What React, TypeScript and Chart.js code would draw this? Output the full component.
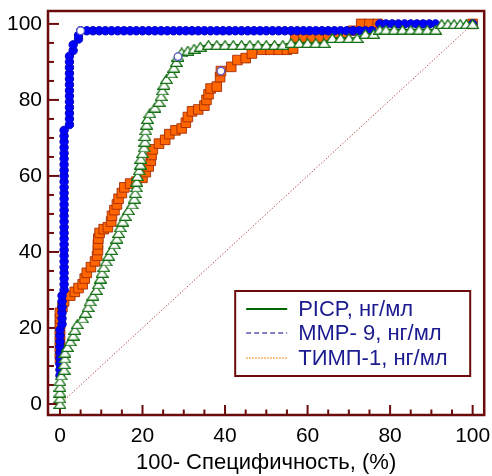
import React, { useEffect, useRef } from 'react';
import { Chart, registerables } from 'chart.js';

Chart.register(...registerables);

const FONT = "'Liberation Sans', Arial, Helvetica, sans-serif";
const AXIS_COLOR = '#6b0b0b';

const legendLabels = ['PICP, нг/мл', 'MMP- 9, нг/мл', 'ТИМП-1, нг/мл'];
const xTitle = '100- Специфичность, (%)';
const xTickValues = [0, 20, 40, 60, 80, 100];
const yTickValues = [0, 20, 40, 60, 80, 100];
const minorTickValues = [5, 10, 15, 25, 30, 35, 45, 50, 55, 65, 70, 75, 85, 90, 95];
const diagonalLine: [number, number][] = [[0, 0], [100, 100]];

// PICP, нг/мл  (100 - specificity, sensitivity)
const picpCurve: [number, number][] = [
  [0, 0], [0, 1.5], [0, 3], [0, 4.5], [0, 6], [0.3, 7.5],
  [1, 9], [1, 10.5], [1.2, 12], [1.2, 13.5], [1.8, 15],
  [2.5, 16.5], [3.2, 18], [3.6, 19.5], [4.2, 21],
  [5.5, 22.5], [6.2, 24], [6.8, 25.5], [7.3, 27],
  [8, 28.5], [8.8, 30], [9.3, 31.5], [9.8, 33], [10.2, 34.5], [10.6, 36], [11.2, 37.5], [11.8, 39], [12.5, 40.5],
  [13.2, 42], [13.8, 43.5], [14.2, 45], [14.6, 46.5], [15.2, 48], [15.8, 49.5], [16.6, 51],
  [17.5, 52.5], [18, 54], [18.2, 55.5], [18.5, 57], [18.6, 58.5], [18.8, 60], [19.2, 61.5], [19.5, 63], [19.6, 64.5], [20, 66],
  [20.4, 67.5], [20.6, 69], [20.6, 70.5], [20.8, 72], [21, 73.5], [21.2, 75], [21.8, 76.5],
  [23, 78], [24, 79.5], [24.5, 81], [24.8, 82.5], [25.2, 84], [25.8, 85.5],
  [27, 87], [27.6, 88.5], [28.2, 90], [28.6, 91.4], [29.5, 92.5], [31, 93], [32.5, 93.5], [34, 94],
  [36, 94.5], [38, 94.5], [40, 94.5], [42, 94.5], [44, 94.5], [46, 94.5], [48, 94.5], [50, 94.5], [52, 94.5], [54, 94.5],
  [56, 95], [58, 95], [60, 95], [62, 95], [64, 95],
  [66, 96.3], [68, 96.3], [70, 96.3], [72, 96.3],
  [74, 97.4], [76, 97.4],
  [77.5, 98.5], [79, 98.5], [81, 98.5], [83, 98.5], [85, 98.5], [87, 98.5], [89, 98.5], [91, 98.5],
  [92.5, 100], [94, 100], [95.5, 100], [97, 100], [98.5, 100], [100, 100],
];

// MMP- 9, нг/мл
const mmpCurve: [number, number][] = [
  [0, 0],
  [0, 7.5], [0, 9], [0, 10.5], [0, 12], [0, 13.5], [0, 15], [0, 16.5], [0, 18], [0, 19.5],
  [0.5, 21], [0.5, 22.5], [0.5, 24], [0.5, 25.5], [0.5, 27], [0.5, 28.5],
  [1, 30], [1, 31.5], [1, 33], [1, 34.5], [1, 36], [1, 37.5], [1, 39], [1, 40.5], [1, 42], [1, 43.5],
  [1, 45], [1, 46.5], [1, 48], [1, 49.5], [1, 51], [1, 52.5], [1, 54], [1, 55.5], [1, 57], [1, 58.5],
  [1, 60], [1, 61.5], [1, 63], [1, 64.5], [1, 66], [1, 67.5], [1, 69], [1, 70.5], [1, 72],
  [2.3, 73.5], [2.3, 75], [2.3, 76.5], [2.3, 78], [2.3, 79.5], [2.3, 81], [2.3, 82.5], [2.3, 84],
  [2.3, 85.5], [2.3, 87], [2.3, 88.5], [2.3, 90], [2.3, 91.5],
  [3.2, 93], [3.2, 94.5], [4.5, 96], [4.5, 97], [5, 98.2],
  [6.5, 98.2], [8, 98.2], [9.5, 98.2], [11, 98.2], [12.5, 98.2], [14, 98.2], [15.5, 98.2], [17, 98.2],
  [18.5, 98.2], [20, 98.2], [21.5, 98.2], [23, 98.2], [24.5, 98.2], [26, 98.2], [27.5, 98.2], [29, 98.2],
  [30.5, 98.2], [32, 98.2], [33.5, 98.2], [35, 98.2], [36.5, 98.2], [38, 98.2], [39.5, 98.2], [41, 98.2],
  [42.5, 98.2], [44, 98.2], [45.5, 98.2], [47, 98.2], [48.5, 98.2], [50, 98.2], [51.5, 98.2], [53, 98.2],
  [54.5, 98.2], [56, 98.2], [57.5, 98.2], [59, 98.2], [60.5, 98.2], [62, 98.2], [63.5, 98.2], [65, 98.2],
  [66.5, 98.2], [68, 98.2], [69.5, 98.2], [71, 98.2], [72.5, 98.2], [74, 98.2], [75.5, 98.2],
  [77.5, 100], [79, 100], [80.5, 100], [82, 100], [83.5, 100], [85, 100], [86.5, 100], [88, 100],
  [89.5, 100], [91, 100], [100, 100],
];

// ТИМП-1, нг/мл
const timpCurve: [number, number][] = [
  [0, 0],
  [0, 12], [0, 13.5], [0, 15], [0, 16.5], [0, 18], [0, 19.5], [0, 21], [0, 22.5], [0, 24], [0.6, 25.5], [1, 27],
  [2.5, 28.5], [3.6, 29.5], [4.5, 30.5], [5.5, 31.5], [6, 33], [6.5, 34.5], [7.5, 36], [8.5, 37.5], [9, 39],
  [9.2, 40.5], [9.2, 42], [9.3, 43.5], [9.6, 45], [10.6, 46], [11.6, 46.5], [12.4, 48], [12.6, 49.5], [13.2, 51],
  [13.8, 52.5], [14.2, 54], [15, 55.5], [15.6, 57], [17, 58], [18.5, 58.5], [20, 59.5], [20.8, 61], [21.5, 62.5],
  [22, 64], [22.2, 65.5], [22.5, 67], [24, 68.5], [25.5, 69.5], [26.5, 71], [28, 72], [29.5, 72.5], [30.5, 74],
  [31, 75.5], [32, 77], [33.5, 77.5], [35, 78.5], [35.5, 80], [36, 81.5], [36.5, 83], [38, 83.5], [38.8, 86],
  [39, 87.6], [41.5, 88.7], [43, 90.5], [45, 91], [46.5, 92.2], [49, 93.2], [51, 93.2], [53, 93.2], [55, 93.2],
  [56.5, 93.5], [57, 96.4], [59, 96.4], [61, 96.4], [63, 96.4], [65, 96.4], [67, 96.4], [69, 97], [71, 98.2],
  [73, 100], [75, 100], [77, 100], [100, 100],
];

// optimal cut-off points: PICP, MMP-9, ТИМП-1
const cutoffPoints: [number, number][] = [[28.6, 91.4], [5, 98.2], [39, 87.6]];

const toXY = (pts: [number, number][]) => pts.map(([x, y]) => ({ x, y }));

function makeTriangle(): HTMLCanvasElement {
  const c = document.createElement('canvas');
  c.width = 13;
  c.height = 10;
  const g = c.getContext('2d')!;
  g.beginPath();
  g.moveTo(6.5, 0.8);
  g.lineTo(12.3, 9.3);
  g.lineTo(0.7, 9.3);
  g.closePath();
  g.fillStyle = '#ffffff';
  g.fill();
  g.strokeStyle = '#167016';
  g.lineWidth = 1.3;
  g.stroke();
  return c;
}

const zeroPadding = (s: any) => {
  s.paddingTop = 0;
  s.paddingBottom = 0;
  s.paddingLeft = 0;
  s.paddingRight = 0;
};

const framePlugin = {
  id: 'rocFrame',
  beforeDatasetsDraw(chart: any) {
    const { ctx, chartArea: a, scales } = chart;
    const xs = scales.x;
    const ys = scales.y;
    ctx.save();
    ctx.strokeStyle = AXIS_COLOR;
    ctx.lineWidth = 2;
    const seg = (x1: number, y1: number, x2: number, y2: number) => {
      ctx.beginPath();
      ctx.moveTo(x1, y1);
      ctx.lineTo(x2, y2);
      ctx.stroke();
    };
    xTickValues.forEach((v) => { const p = xs.getPixelForValue(v); seg(p, a.bottom, p, a.bottom - 10); });
    minorTickValues.forEach((v) => { const p = xs.getPixelForValue(v); seg(p, a.bottom, p, a.bottom - 5.5); });
    yTickValues.forEach((v) => { const p = ys.getPixelForValue(v); seg(a.left, p, a.left + 11, p); });
    minorTickValues.forEach((v) => { const p = ys.getPixelForValue(v); seg(a.left, p, a.left + 6, p); });
    ctx.lineWidth = 2.5;
    ctx.strokeRect(a.left, a.top, a.right - a.left, a.bottom - a.top);
    ctx.restore();
  },
};

const legendPlugin = {
  id: 'rocLegend',
  afterDraw(chart: any) {
    const { ctx, chartArea: a } = chart;
    const left = a.right - 249;
    const right = a.right - 14;
    const top = a.bottom - 124;
    const bottom = a.bottom - 39;
    ctx.save();
    ctx.fillStyle = '#ffffff';
    ctx.fillRect(left, top, right - left, bottom - top);
    ctx.strokeStyle = AXIS_COLOR;
    ctx.lineWidth = 2;
    ctx.strokeRect(left, top, right - left, bottom - top);
    const rows = [
      { y: top + 18, color: '#006600', dash: [] as number[], width: 2 },
      { y: top + 42, color: '#00008b', dash: [5, 3], width: 1 },
      { y: top + 67, color: '#ff9933', dash: [1.5, 1.5], width: 1.5 },
    ];
    rows.forEach((r, i) => {
      ctx.beginPath();
      ctx.setLineDash(r.dash);
      ctx.strokeStyle = r.color;
      ctx.lineWidth = r.width;
      ctx.moveTo(left + 11, r.y);
      ctx.lineTo(left + 52, r.y);
      ctx.stroke();
      ctx.setLineDash([]);
      ctx.fillStyle = '#1b1b8f';
      ctx.font = `22px ${FONT}`;
      ctx.textAlign = 'left';
      ctx.textBaseline = 'middle';
      ctx.fillText(chart.data.datasets[i].label, left + 63, r.y + 1);
    });
    ctx.restore();
  },
};

export default function App() {
  const canvasRef = useRef<HTMLCanvasElement | null>(null);

  useEffect(() => {
    if (!canvasRef.current) return;
    const tri = makeTriangle();
    const chart = new Chart(canvasRef.current, {
      type: 'scatter',
      data: {
        datasets: [
          {
            label: legendLabels[0],
            data: toXY(picpCurve),
            showLine: true,
            borderColor: '#006600',
            borderWidth: 1.5,
            pointStyle: tri as any,
            pointRadius: 5,
            order: 1,
          },
          {
            label: legendLabels[1],
            data: toXY(mmpCurve),
            showLine: true,
            borderColor: '#00008b',
            borderWidth: 1,
            borderDash: [4, 3],
            pointStyle: 'circle',
            pointRadius: (c: any) => (c.dataIndex === 0 ? 0 : 4.2),
            pointBackgroundColor: '#0000ff',
            pointBorderColor: '#0000c0',
            pointBorderWidth: 1,
            order: 2,
          },
          {
            label: legendLabels[2],
            data: toXY(timpCurve),
            showLine: true,
            borderColor: '#ff8c1a',
            borderWidth: 1,
            borderDash: [1, 2],
            pointStyle: 'rect',
            pointRadius: (c: any) => (c.dataIndex === 0 ? 0 : 6.8),
            pointBackgroundColor: '#ff6600',
            pointBorderColor: 'rgba(160,40,0,0.85)',
            pointBorderWidth: 1,
            order: 3,
          },
          {
            label: 'diagonal',
            data: toXY(diagonalLine),
            showLine: true,
            borderColor: '#a83232',
            borderWidth: 1,
            borderDash: [1.2, 2],
            pointRadius: 0,
            order: 4,
          },
          {
            label: 'cutoff',
            data: toXY(cutoffPoints),
            showLine: false,
            pointStyle: 'circle',
            pointRadius: 3.8,
            pointBackgroundColor: '#ffffff',
            pointBorderColor: '#5a5ac8',
            pointBorderWidth: 1.3,
            order: 0,
          },
        ],
      } as any,
      options: {
        animation: false,
        responsive: false,
        devicePixelRatio: 1,
        layout: { padding: { left: 0, right: 7, top: 11, bottom: 0 } },
        plugins: {
          legend: { display: false },
          tooltip: { enabled: false },
        },
        scales: {
          x: {
            type: 'linear',
            min: -2.9,
            max: 102.8,
            afterBuildTicks: (s: any) => { s.ticks = xTickValues.map((v) => ({ value: v })); },
            afterFit: (s: any) => { s.height = 61; zeroPadding(s); },
            grid: { display: false, drawTicks: false },
            border: { display: false },
            ticks: {
              font: { family: FONT, size: 21 },
              color: '#000000',
              padding: 9,
              maxRotation: 0,
              autoSkip: false,
            },
            title: {
              display: true,
              text: xTitle,
              font: { family: FONT, size: 22 },
              color: '#000000',
              padding: { top: 0, bottom: 0 },
            },
          },
          y: {
            type: 'linear',
            min: -2.9,
            max: 103.4,
            afterBuildTicks: (s: any) => { s.ticks = yTickValues.map((v) => ({ value: v })); },
            afterFit: (s: any) => { s.width = 48; zeroPadding(s); },
            grid: { display: false, drawTicks: false },
            border: { display: false },
            ticks: {
              font: { family: FONT, size: 21 },
              color: '#000000',
              padding: 6,
              autoSkip: false,
            },
          },
        },
      } as any,
      plugins: [framePlugin, legendPlugin],
    });
    return () => chart.destroy();
  }, []);

  return (
    <div style={{ position: 'absolute', left: 0, top: 0, width: 492, height: 476, background: '#ffffff' }}>
      <canvas ref={canvasRef} width={492} height={476} style={{ display: 'block', width: 492, height: 476 }} />
    </div>
  );
}
